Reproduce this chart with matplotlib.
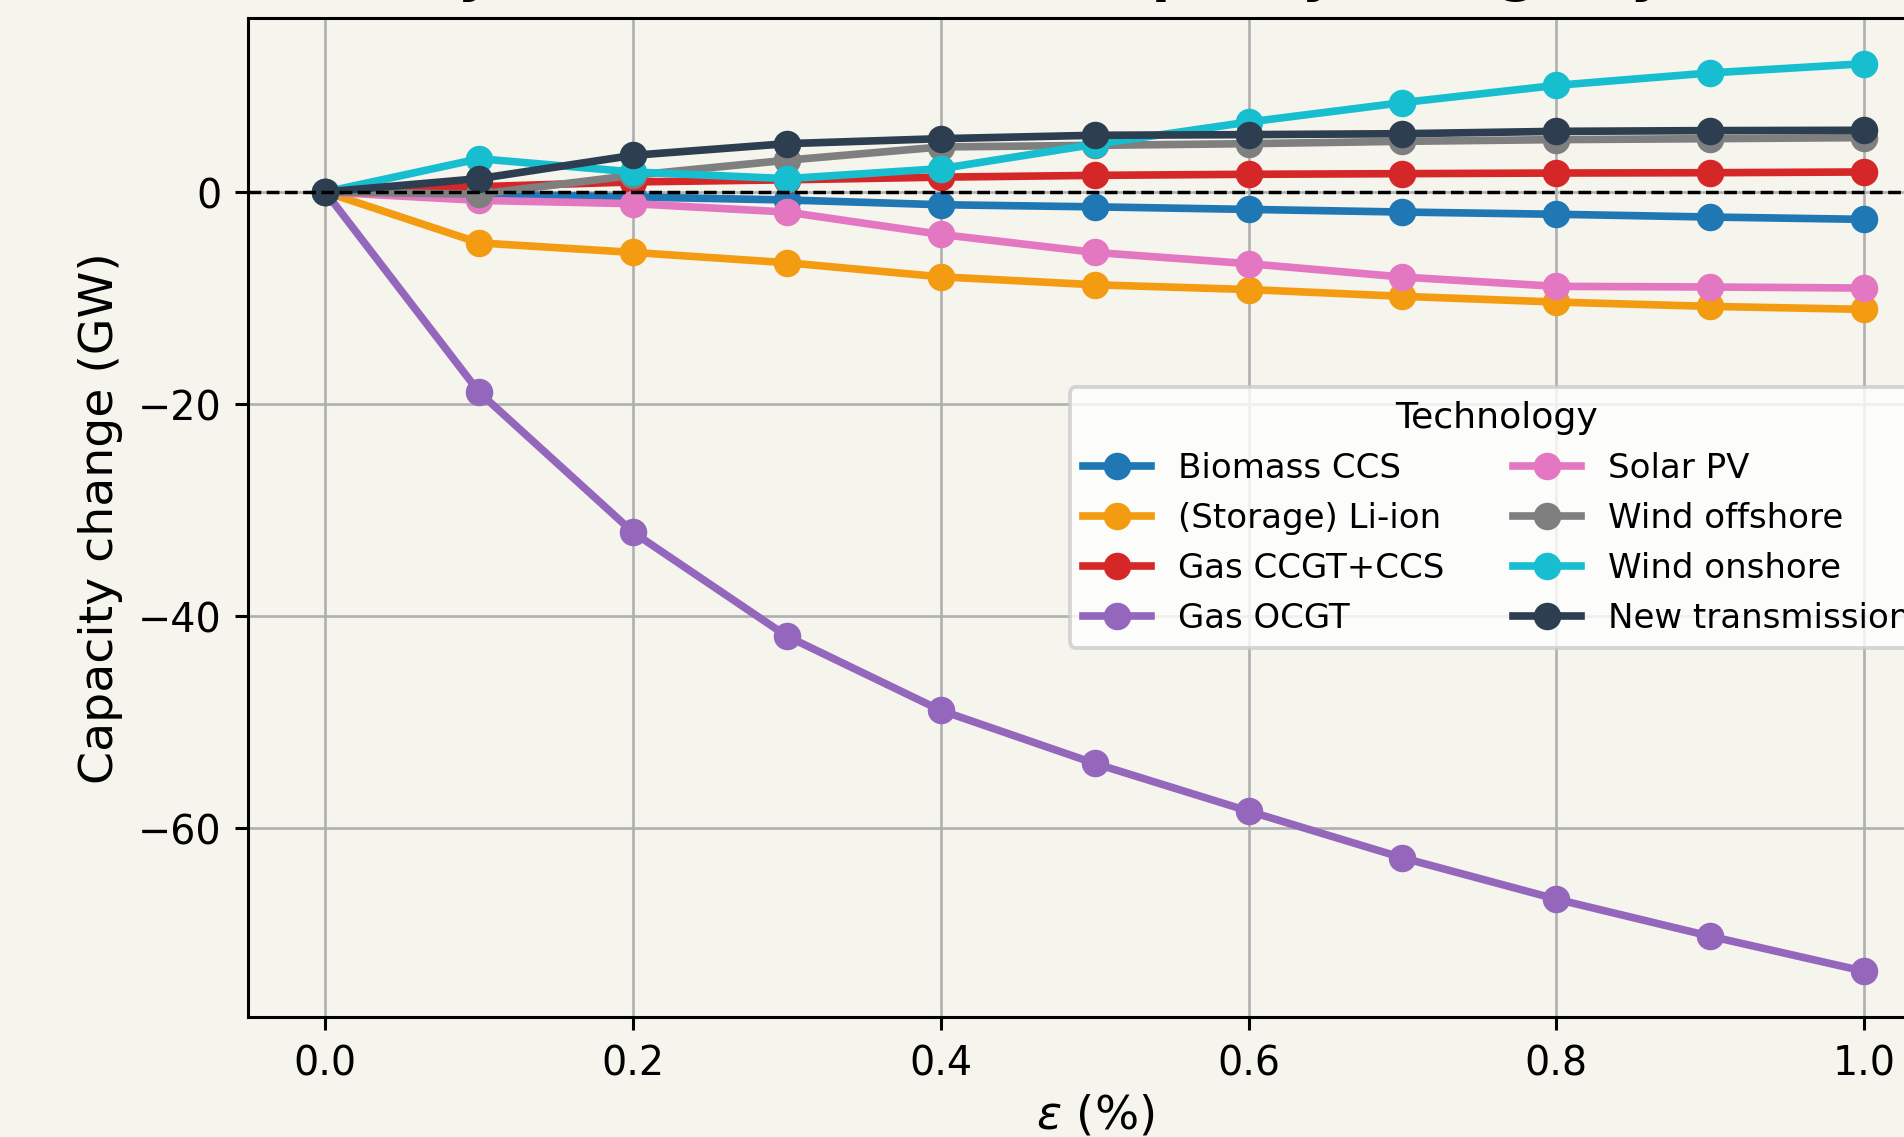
import matplotlib
matplotlib.use("Agg")
import matplotlib.pyplot as plt

# epsilon values (%)
eps = [0.0, 0.1, 0.2, 0.3, 0.4, 0.5, 0.6, 0.7, 0.8, 0.9, 1.0]

# capacity change per technology (GW)
biomass_ccs = [0, -0.2, -0.47, -0.75, -1.2, -1.4, -1.64, -1.89, -2.1, -2.36, -2.58]
li_ion = [0, -4.8, -5.7, -6.67, -8.0, -8.75, -9.2, -9.84, -10.38, -10.79, -11.07]
gas_ccgt_ccs = [0, 0.5, 0.95, 1.15, 1.4, 1.57, 1.67, 1.73, 1.79, 1.82, 1.89]
gas_ocgt = [0, -18.9, -32.1, -41.9, -48.9, -53.9, -58.4, -62.8, -66.7, -70.2, -73.5]
solar_pv = [0, -0.79, -1.1, -1.89, -4.0, -5.7, -6.76, -8.02, -8.9, -8.96, -9.06]
wind_offshore = [0, -0.2, 1.57, 3.0, 4.25, 4.4, 4.56, 4.78, 4.94, 5.03, 5.13]
wind_onshore = [0, 3.14, 1.89, 1.26, 2.2, 4.5, 6.6, 8.43, 10.06, 11.23, 12.1]
new_transmission = [0, 1.26, 3.46, 4.56, 5.03, 5.35, 5.41, 5.5, 5.72, 5.79, 5.82]

labels = ["Biomass CCS", "(Storage) Li-ion", "Gas CCGT+CCS", "Gas OCGT",
          "Solar PV", "Wind offshore", "Wind onshore", "New transmission"]
series = [biomass_ccs, li_ion, gas_ccgt_ccs, gas_ocgt,
          solar_pv, wind_offshore, wind_onshore, new_transmission]
colors = ["#1f77b4", "#f39c12", "#d62728", "#9467bd",
          "#e377c2", "#7f7f7f", "#17becf", "#2c3e50"]

bg = "#f5f4ed"
dpi = 275
fig = plt.figure(figsize=(1904 / dpi, 1138 / dpi), dpi=dpi, facecolor=bg)
# axes run past the right edge of the canvas, as in the reference crop
ax = fig.add_axes([0.1305, 0.1058, 0.8889, 0.8772])
ax.set_facecolor(bg)

for vals, lab, col in zip(series, labels, colors):
    ax.plot(eps, vals, marker="o", color=col, label=lab, linewidth=2.0, markersize=6.2)

ax.axhline(0, color="black", linestyle="--", linewidth=0.9)
ax.grid(True, color="#b0b0b0", linewidth=0.7)

ax.set_xlabel(r"$\varepsilon$ (%)", fontsize=12.2, labelpad=2.5)
ax.set_ylabel("Capacity change (GW)", fontsize=12.4)
ax.tick_params(labelsize=10.4)

leg = ax.legend(title="Technology", ncol=2, loc="center right",
                fontsize=8.9, title_fontsize=9.5)

# title sits above the canvas; only its descenders are visible
fig.text(0.575, 1.0075, "Sensitivity to the cost bound: capacity change by technology",
         ha="center", va="baseline", fontsize=14, fontweight="bold")

fig.savefig("out.png", dpi=dpi, facecolor=bg)
